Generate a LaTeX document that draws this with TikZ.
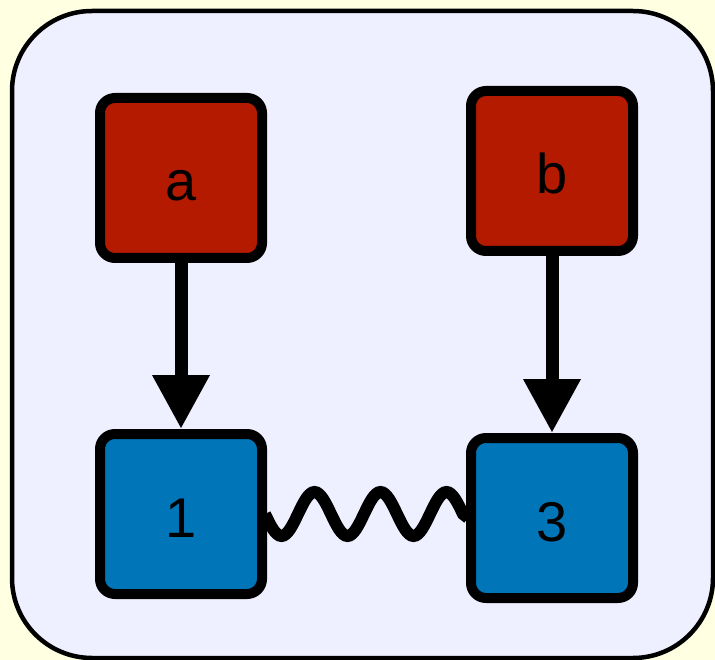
\documentclass[tikz,border=0pt]{standalone}
\usepackage{fontspec}
\setmainfont{Liberation Sans}
\usetikzlibrary{arrows.meta}

\tikzset{
	box/.style={draw=black, line width=10pt, rounded corners=15pt, minimum width=162pt, minimum height=160pt, inner sep=0pt, text height=46pt, text depth=0pt, font=\fontsize{56}{60}\selectfont},
	inbox/.style={box, fill=inred},
	qbox/.style={box, fill=qblue},
	link/.style={line width=13pt, -{Triangle[width=54pt,length=54pt]}},
	wiggle/.style={line width=12pt}
}

\begin{document}
\begin{tikzpicture}[x=1pt,y=-1pt]
		\definecolor{bgyellow}{HTML}{FFFFE2}
		\definecolor{lavender}{HTML}{EEF0FF}
		\definecolor{inred}{HTML}{B41A00}
		\definecolor{qblue}{HTML}{0075B8}
		\useasboundingbox (0,0) rectangle (715,660);
		% Hintergrund
		\fill[bgyellow] (0,0) rectangle (715,660);
		\draw[line width=4.5pt, fill=lavender, rounded corners=80pt] (12,11) rectangle (713,658);
		% Eingaenge
		\node[inbox] (a) at (181,178) {a};
		\node[inbox] (b) at (552,171) {b};
		% Qubits
		\node[qbox] (q1) at (181,514) {1};
		\node[qbox] (q3) at (552,518) {3};
		% Pfeile
		\draw[link] (a) -- (q1);
		\draw[link] (b) -- (q3);
		% Kopplung
		\draw[wiggle] ([xshift=-2pt]q1.east)
			\foreach \i in {1,2,3} { sin ++(16.5,22) cos ++(16.5,-22) sin ++(16.5,-22) cos ++(16.5,22) }
			-- ([xshift=2pt]q3.west);
		\end{tikzpicture}
\end{document}
